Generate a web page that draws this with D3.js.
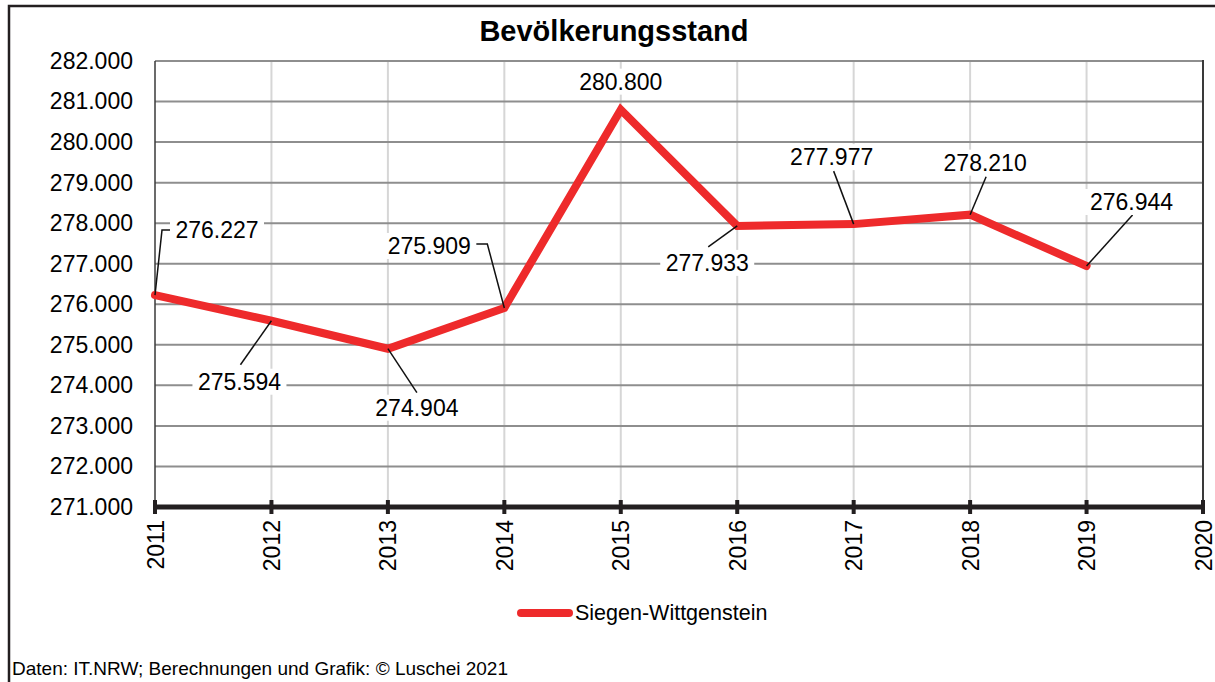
<!DOCTYPE html>
<html>
<head>
<meta charset="utf-8">
<script src="https://cdn.jsdelivr.net/npm/d3@7"></script>
<style>
  html, body { margin: 0; padding: 0; background: #fff; }
  svg { display: block; font-family: "Liberation Sans", Arial, sans-serif; }
</style>
</head>
<body>
<script>
var
  // data
  years = [2011, 2012, 2013, 2014, 2015, 2016, 2017, 2018, 2019],
  population = [276227, 275594, 274904, 275909, 280800, 277933, 277977, 278210, 276944],
  yTicks = [271000, 272000, 273000, 274000, 275000, 276000, 277000, 278000, 279000, 280000, 281000, 282000],
  xTicks = [2011, 2012, 2013, 2014, 2015, 2016, 2017, 2018, 2019, 2020],
  seriesName = 'Siegen-Wittgenstein',
  title = 'Bevölkerungsstand',
  footer = 'Daten: IT.NRW; Berechnungen und Grafik: © Luschei 2021',

  // label placement relative to the point (label centre, leader path)
  labelLayout = [
    { dx: 62,  dy: -65, leader: [[0, 0], [7, -65], [20, -65]] },
    { dx: -32, dy: 61,  leader: [[0, 0], [-31, 44]] },
    { dx: 29,  dy: 59,  leader: [[0, 0], [29, 44]] },
    { dx: -75, dy: -62, leader: [[0, 0], [-17, -64], [-30, -64]] },
    { dx: 0,   dy: -28, leader: null },
    { dx: -30, dy: 37,  leader: [[0, 0], [-29, 21]] },
    { dx: -22, dy: -67, leader: [[0, 0], [-20, -53]] },
    { dx: 15,  dy: -52, leader: [[0, 0], [16, -38]] },
    { dx: 45,  dy: -64, leader: [[0, 0], [46, -51]] }
  ],

  config = {
    w: 1215,
    h: 682,
    left: 155,
    right: 1203,
    top: 61,
    bottom: 507,
    red: '#ee2a2b'
  },

  de = d3.formatLocale({ decimal: ',', thousands: '.', grouping: [3], currency: ['', ' €'] }),
  fmt = de.format(','),

  draw = function draw() {
    var
      svg = d3.select('body').append('svg')
        .attr('width', config.w).attr('height', config.h),
      x = d3.scaleLinear().domain([2011, 2020]).range([config.left, config.right]),
      y = d3.scaleLinear().domain([271000, 282000]).range([config.bottom, config.top]),
      points = years.map(function (yr, i) { return { year: yr, value: population[i], lay: labelLayout[i] }; });

    // outer frame
    svg.append('rect')
      .attr('x', 9).attr('y', 6).attr('width', 1300).attr('height', 800)
      .attr('fill', 'none').attr('stroke', '#231f20').attr('stroke-width', 2.5);

    // vertical grid
    svg.append('g').selectAll('line').data(xTicks.slice(1, -1)).enter().append('line')
      .attr('x1', x).attr('x2', x)
      .attr('y1', config.top).attr('y2', config.bottom)
      .attr('stroke', '#d6d6d6').attr('stroke-width', 2);

    // horizontal grid
    svg.append('g').selectAll('line').data(yTicks.slice(1)).enter().append('line')
      .attr('x1', config.left).attr('x2', config.right)
      .attr('y1', y).attr('y2', y)
      .attr('stroke', '#8e8e8e').attr('stroke-width', 2);

    // plot right border + left axis
    svg.append('line')
      .attr('x1', config.right).attr('x2', config.right)
      .attr('y1', config.top - 1).attr('y2', config.bottom)
      .attr('stroke', '#3a3a3a').attr('stroke-width', 2);
    svg.append('line')
      .attr('x1', config.left).attr('x2', config.left)
      .attr('y1', config.top).attr('y2', config.bottom)
      .attr('stroke', '#3a3a3a').attr('stroke-width', 1.5);

    // y axis labels
    var yAxis = d3.axisLeft(y).tickValues(yTicks).tickFormat(fmt).tickSize(0).tickPadding(22);
    var yg = svg.append('g').attr('transform', 'translate(' + config.left + ',0)').call(yAxis);
    yg.select('.domain').remove();
    yg.selectAll('text').attr('font-size', 23).attr('fill', '#000')
      .attr('font-family', '"Liberation Sans", Arial, sans-serif');

    // x axis
    var xAxis = d3.axisBottom(x).tickValues(xTicks).tickFormat(d3.format('d')).tickSize(0);
    var xg = svg.append('g').attr('transform', 'translate(0,' + config.bottom + ')').call(xAxis);
    xg.select('.domain').remove();
    xg.selectAll('text')
      .attr('font-size', 23).attr('fill', '#000')
      .attr('font-family', '"Liberation Sans", Arial, sans-serif')
      .attr('text-anchor', 'end')
      .attr('transform', 'rotate(-90)')
      .attr('x', -13).attr('y', 0).attr('dy', '0.35em');

    svg.append('line')
      .attr('x1', config.left).attr('x2', config.right)
      .attr('y1', config.bottom).attr('y2', config.bottom)
      .attr('stroke', '#231f20').attr('stroke-width', 5);
    svg.append('g').selectAll('line').data(xTicks).enter().append('line')
      .attr('x1', x).attr('x2', x)
      .attr('y1', config.bottom - 7).attr('y2', config.bottom + 7)
      .attr('stroke', '#231f20').attr('stroke-width', 4);

    // series line
    var line = d3.line()
      .x(function (d) { return x(d.year); })
      .y(function (d) { return y(d.value); });
    svg.append('path').datum(points)
      .attr('d', line)
      .attr('fill', 'none').attr('stroke', config.red)
      .attr('stroke-width', 8).attr('stroke-linejoin', 'miter').attr('stroke-linecap', 'round');

    // leaders
    svg.append('g').selectAll('path').data(points.filter(function (d) { return d.lay.leader; })).enter().append('path')
      .attr('d', function (d) {
        var px = x(d.year), py = y(d.value);
        return 'M' + d.lay.leader.map(function (p) { return [px + p[0], py + p[1]].join(','); }).join('L');
      })
      .attr('fill', 'none').attr('stroke', '#111').attr('stroke-width', 1.5);

    // data labels
    var labels = svg.append('g').selectAll('g').data(points).enter().append('g')
      .attr('transform', function (d) {
        return 'translate(' + (x(d.year) + d.lay.dx) + ',' + (y(d.value) + d.lay.dy) + ')';
      });
    labels.append('rect')
      .attr('x', -47).attr('y', -13).attr('width', 94).attr('height', 26)
      .attr('fill', '#fff');
    labels.append('text')
      .attr('text-anchor', 'middle').attr('dy', '0.36em')
      .attr('font-size', 23).attr('fill', '#000')
      .text(function (d) { return fmt(d.value); });

    // title
    svg.append('text')
      .attr('x', 614).attr('y', 41)
      .attr('text-anchor', 'middle').attr('font-size', 29).attr('font-weight', 'bold')
      .text(title);

    // legend
    svg.append('line')
      .attr('x1', 521).attr('x2', 569).attr('y1', 613).attr('y2', 613)
      .attr('stroke', config.red).attr('stroke-width', 8).attr('stroke-linecap', 'round');
    svg.append('text')
      .attr('x', 575).attr('y', 620).attr('font-size', 21.5)
      .text(seriesName);

    // footer
    svg.append('text')
      .attr('x', 12).attr('y', 675).attr('font-size', 19)
      .text(footer);
  };

draw();
</script>
</body>
</html>
